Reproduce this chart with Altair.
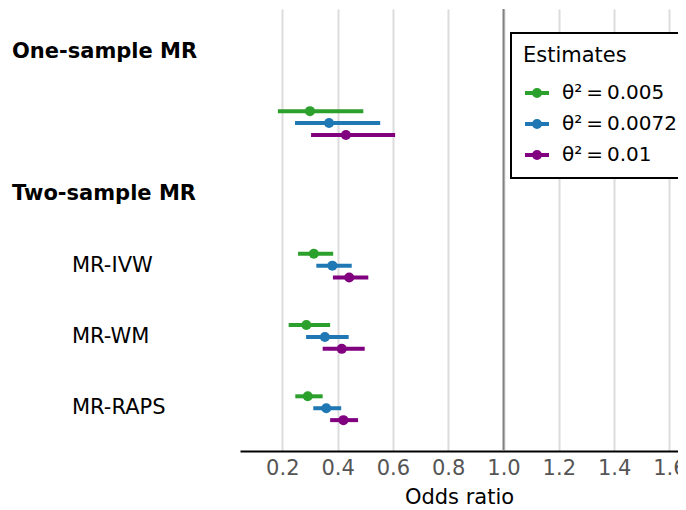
import altair as alt
import pandas as pd

# ---- data ----
methods = ["One-sample MR", "MR-IVW", "MR-WM", "MR-RAPS"]
method_rows = [1, 3, 4, 5]

series = ["θ²\u2009=\u20090.005", "θ²\u2009=\u20090.0072", "θ²\u2009=\u20090.01"]
colors = ["#2ca02c", "#1f77b4", "#800080"]
offsets = [-0.167, 0.0, 0.167]

est_005 = [0.300, 0.314, 0.287, 0.292]
lo_005 = [0.184, 0.257, 0.223, 0.247]
hi_005 = [0.493, 0.384, 0.373, 0.346]

est_0072 = [0.369, 0.381, 0.354, 0.359]
lo_0072 = [0.246, 0.323, 0.286, 0.312]
hi_0072 = [0.554, 0.451, 0.440, 0.413]

est_01 = [0.430, 0.442, 0.415, 0.421]
lo_01 = [0.304, 0.383, 0.346, 0.373]
hi_01 = [0.608, 0.511, 0.498, 0.474]

header_labels = ["One-sample MR", "Two-sample MR"]
header_rows = [0, 2]
sub_labels = ["MR-IVW", "MR-WM", "MR-RAPS"]
sub_rows = [3, 4, 5]

x_ticks = [0.2, 0.4, 0.6, 0.8, 1.0, 1.2, 1.4, 1.6]
ref_value = [1.0]

# ---- build table ----
records = []
for s, off, est, lo, hi in zip(
    series, offsets,
    [est_005, est_0072, est_01],
    [lo_005, lo_0072, lo_01],
    [hi_005, hi_0072, hi_01],
):
    for m, r, e, l, h in zip(methods, method_rows, est, lo, hi):
        records.append({"method": m, "series": s, "pos": r + off,
                        "est": e, "lo": l, "hi": h})
df = pd.DataFrame(records)

hdr = pd.DataFrame({"label": header_labels, "pos": header_rows})
sub = pd.DataFrame({"label": sub_labels, "pos": sub_rows})
ref = pd.DataFrame({"v": ref_value})

FONT = "DejaVu Sans"
FS = 21
xscale = alt.Scale(domain=[0.047, 1.631], nice=False, zero=False)
yscale = alt.Scale(domain=[-0.6, 5.6], nice=False, zero=False, reverse=True)

legend = alt.Legend(
    title="Estimates",
    orient="none",
    legendX=271,
    legendY=24,
    symbolType="M-1,0H1M-0.25,0A0.25,0.25,0,1,1,0.25,0A0.25,0.25,0,1,1,-0.25,0M-0.08,0A0.08,0.08,0,1,1,0.08,0A0.08,0.08,0,1,1,-0.08,0",
    symbolSize=576,
    symbolStrokeWidth=4,
    labelFontSize=20,
    labelFont=FONT,
    labelColor="black",
    labelLimit=300,
    titleFontSize=FS,
    titleFont=FONT,
    titleFontWeight="normal",
    titleColor="black",
    titlePadding=13,
    labelOffset=11,
    rowPadding=6,
    padding=12,
    strokeColor="black",
    fillColor="white",
    cornerRadius=0,
)

color = alt.Color("series:N", scale=alt.Scale(domain=series, range=colors),
                  legend=legend)

xaxis = alt.Axis(
    values=x_ticks, format=".1f", title="Odds ratio",
    labelFontSize=FS, labelFont=FONT, labelColor="#555555",
    titleFontSize=FS, titleFont=FONT, titleFontWeight="normal", titleColor="black",
    domainColor="black", domainWidth=2, ticks=False,
    grid=True, gridColor="#dcdcdc", gridWidth=2,
    labelPadding=6, titlePadding=8,
)

ref_rule = alt.Chart(ref).mark_rule(color="#808080", strokeWidth=2).encode(
    x=alt.X("v:Q", scale=xscale, axis=xaxis)
)

bars = alt.Chart(df).mark_rule(strokeWidth=4).encode(
    x=alt.X("lo:Q", scale=xscale, axis=xaxis),
    x2="hi:Q",
    y=alt.Y("pos:Q", scale=yscale, axis=None),
    color=color,
)

points = alt.Chart(df).mark_point(filled=True, size=100, opacity=1).encode(
    x=alt.X("est:Q", scale=xscale, axis=xaxis),
    y=alt.Y("pos:Q", scale=yscale, axis=None),
    color=color,
)

hdr_text = alt.Chart(hdr).mark_text(
    align="left", baseline="middle", font=FONT, fontSize=FS,
    fontWeight="bold", color="black",
).encode(
    x=alt.value(-228),
    y=alt.Y("pos:Q", scale=yscale, axis=None),
    text="label:N",
)

sub_text = alt.Chart(sub).mark_text(
    align="left", baseline="middle", font=FONT, fontSize=FS,
    color="black",
).encode(
    x=alt.value(-168),
    y=alt.Y("pos:Q", scale=yscale, axis=None),
    text="label:N",
)

chart = alt.layer(ref_rule, bars, points, hdr_text, sub_text).properties(
    width=438,
    height=442,
    autosize="none",
    padding={"left": 232, "top": 1, "right": 0, "bottom": 58},
).configure_view(stroke=None).configure_legend(strokeWidth=2)

chart.save("out.html", embed_options={"renderer": "svg", "actions": False})
